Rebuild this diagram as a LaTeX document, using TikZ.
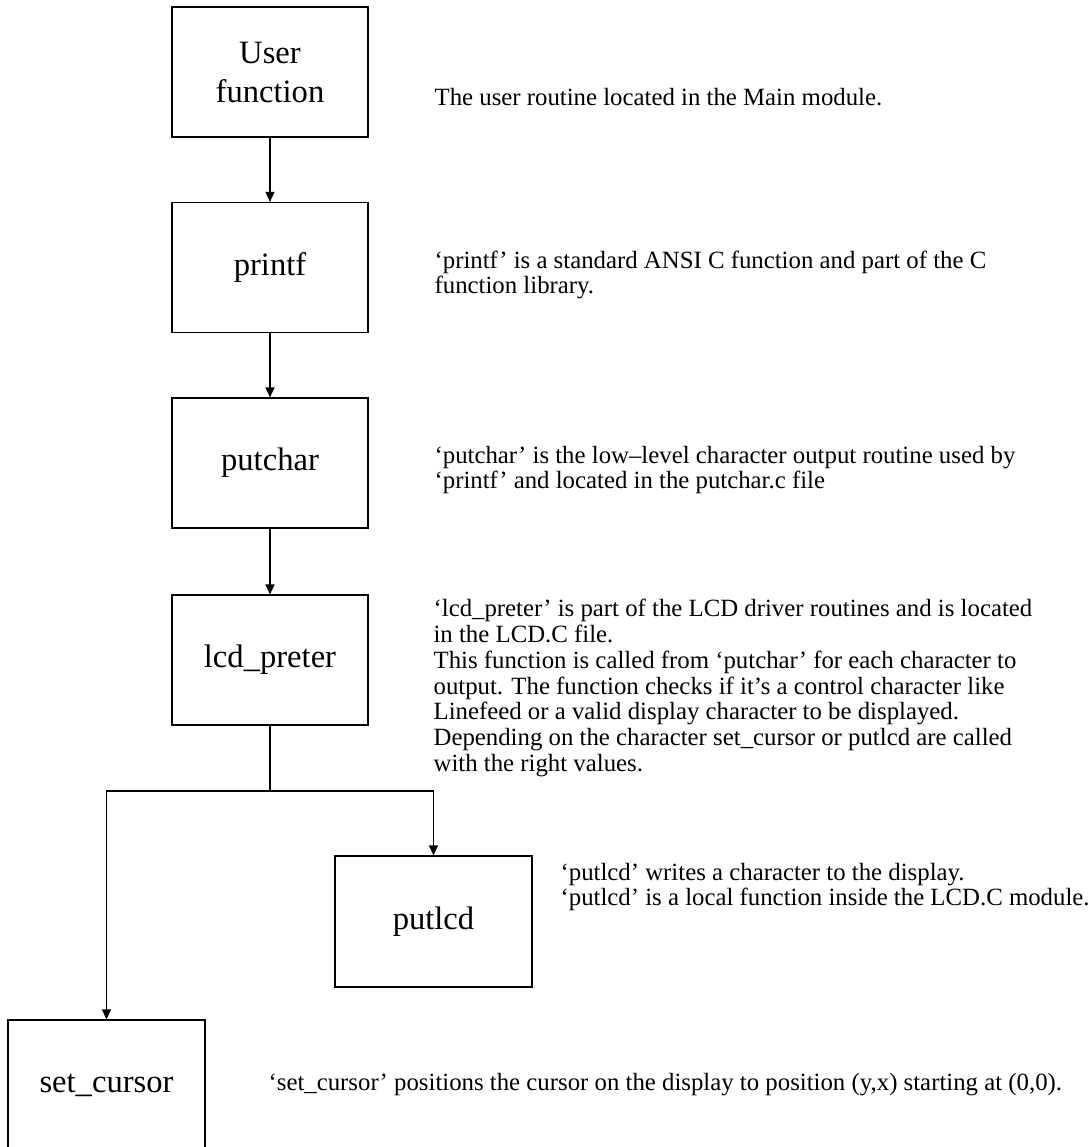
\documentclass[tikz,border=0pt]{standalone}
\usepackage{fontspec}
\setmainfont{Liberation Serif}
\usetikzlibrary{arrows.meta,positioning}

\begin{document}
\begin{tikzpicture}[x=0.5pt,y=-0.5pt,line width=0.6pt,
	fbox/.style={draw,minimum width=98pt,minimum height=65pt,inner sep=0pt,
		align=center,font=\fontsize{16.3}{19.5}\selectfont},
	desc/.style={anchor=west,align=left,inner sep=0pt,
		font=\fontsize{12.4}{12.9}\selectfont},
	arr/.style={-{Triangle[length=5pt,width=4.5pt]}}]
	\useasboundingbox (0,0) rectangle (1088,1147);

	% call chain
	\node[fbox] (user) at (270,72){User\\function};
	\node[fbox] (printf) at (270,267.5){printf};
	\node[fbox] (putchar) at (270,463){putchar};
	\node[fbox] (lcd) at (270,660){lcd\_preter};
	\node[fbox,minimum width=98.5pt,minimum height=65.5pt] (putlcd) at (433.5,921.5){putlcd};
	\node[fbox,minimum width=98.5pt] (setcur) at (106.5,1085){set\_cursor};

	\draw[arr] (user) -- (printf);
	\draw[arr] (printf) -- (putchar);
	\draw[arr] (putchar) -- (lcd);
	\coordinate (fork) at (270,791);
	\draw (lcd) -- (fork);
	\draw[arr] (fork) -| (putlcd);
	\draw[arr] (fork) -| (setcur);

	% descriptions
	\node[desc] (userdesc) at (434,97){The user routine located in the Main module.};
	\node[desc] (printfdesc) at (434,275){`printf' is a standard ANSI C function and part of the C\\
		function library.};
	\node[desc] (putchardesc) at (434,470){`putchar' is the low--level character output routine used by\\
		`printf' and located in the putchar.c file};
	\node[desc] (lcddesc) at (433,688){`lcd\_preter' is part of the LCD driver routines and is located\\
		in the LCD.C file.\\
		This function is called from `putchar' for each character to\\
		output. The function checks if it's a control character like\\
		Linefeed or a valid display character to be displayed.\\
		Depending on the character set\_cursor or putlcd are called\\
		with the right values.};
	\node[desc] (putlcddesc) at (560,887){`putlcd' writes a character to the display.\\
		`putlcd' is a local function inside the LCD.C module.};
	\node[desc] (setcurdesc) at (268,1085){`set\_cursor' positions the cursor on the display to position (y,x) starting at (0,0).};

\end{tikzpicture}
\end{document}
